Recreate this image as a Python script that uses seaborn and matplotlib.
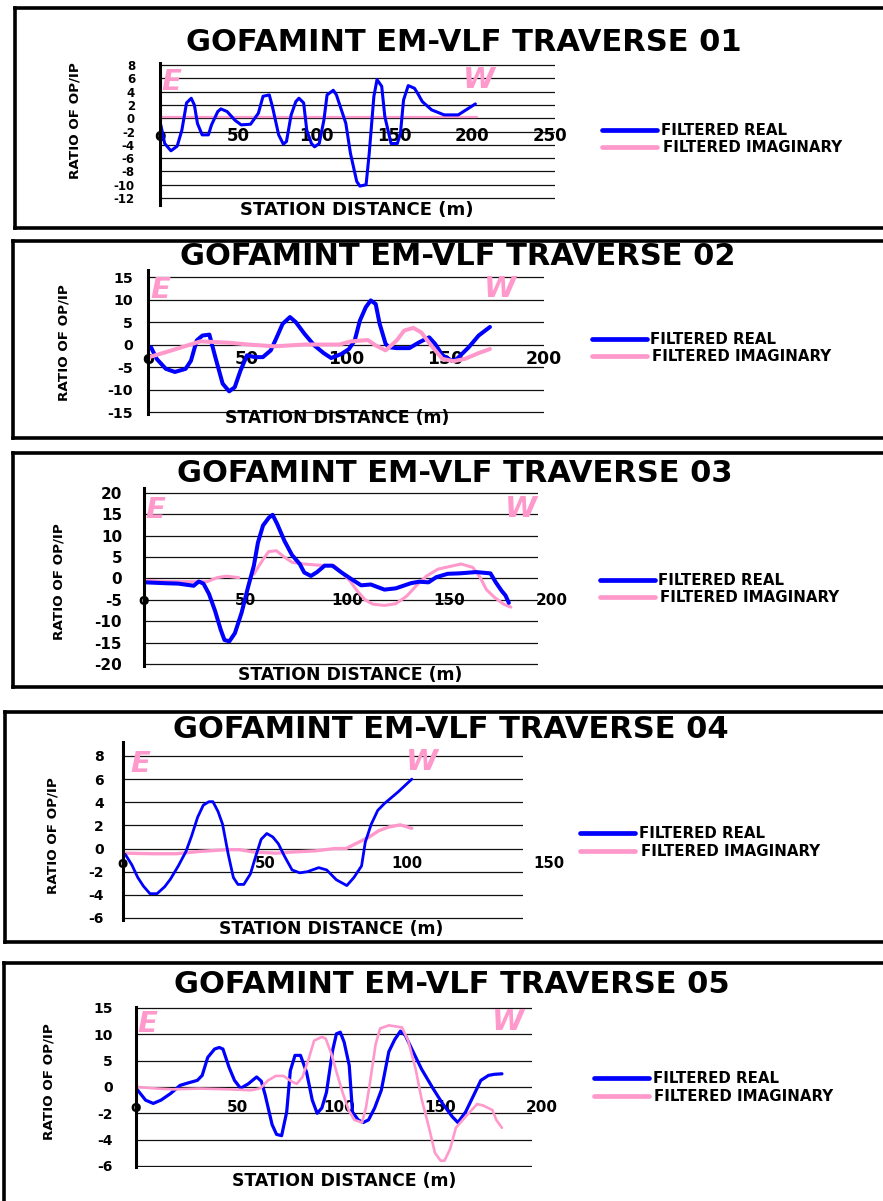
import numpy as np
import matplotlib
matplotlib.use("Agg")
import matplotlib.pyplot as plt
import seaborn as sns
from matplotlib.lines import Line2D

# ---------------- data ----------------
titles = ["GOFAMINT EM-VLF TRAVERSE 01", "GOFAMINT EM-VLF TRAVERSE 02",
          "GOFAMINT EM-VLF TRAVERSE 03", "GOFAMINT EM-VLF TRAVERSE 04",
          "GOFAMINT EM-VLF TRAVERSE 05"]
series_names = ["FILTERED REAL", "FILTERED IMAGINARY"]
y_label = "RATIO OF OP/IP"
x_label = "STATION DISTANCE (m)"

t1_yticks = [8, 6, 4, 2, 0, -2, -4, -6, -8, -10, -12]
t2_yticks = [15, 10, 5, 0, -5, -10, -15]
t3_yticks = [20, 15, 10, 5, 0, -5, -10, -15, -20]
t4_yticks = [8, 6, 4, 2, 0, -2, -4, -6]
t5_yticks = [15, 10, 5, 0, -2, -4, -6]

t1_xlabels = [0, 50, 100, 150, 200, 250]
t2_xlabels = [0, 50, 100, 150, 200]
t3_xlabels = [0, 50, 100, 150, 200]
t4_xlabels = [0, 50, 100, 150]
t5_xlabels = [0, 50, 100, 150, 200]

t1_real_x = [0.5, 3, 7, 11, 14, 17, 20, 22, 24, 27, 31, 33, 37, 39, 43, 48, 52, 58, 63, 66,
             70, 72, 76, 79, 81, 84, 87, 89, 92, 94, 97, 99, 102, 105, 107, 111, 113, 119, 122, 126,
             128, 132, 134, 137, 139, 142, 144, 148, 152, 154, 156, 159, 163, 165, 168, 174, 182, 191, 202]
t1_real_y = [-1, -3.8, -4.9, -4.2, -1.8, 2.3, 3.0, 2.0, -0.8, -2.5, -2.5, -1, 1.0, 1.4, 1.0, -0.3, -1, -0.9, 0.75, 3.3,
             3.5, 1.75, -2.5, -3.9, -3.5, 0.5, 2.5, 3.0, 2.3, -1.8, -3.8, -4.3, -3.8, -0.25, 3.5, 4.2, 3.5, -0.75, -5.3, -9.5,
             -10.2, -10, -5.3, 3.3, 5.8, 4.8, 0.25, -3.8, -3.8, -2.3, 2.75, 4.9, 4.5, 3.75, 2.5, 1.25, 0.5, 0.5, 2.15]
t1_imag_x = [0, 50, 100, 150, 203]
t1_imag_y = [0.15, 0.15, 0.15, 0.15, 0.15]

t2_real_x = [1.5, 4.4, 9, 13.6, 19, 21.7, 24.6, 27.5, 31, 34, 37.7, 41, 43.8, 46.7, 50, 54, 58, 62, 65, 68,
             71.7, 74.6, 79, 84, 88.7, 92.5, 97.7, 101.5, 104.4, 107, 110, 112.5, 115, 117, 120, 121.7, 125.6,
             132, 137, 142, 145, 148.7, 153.5, 156, 162, 167, 172.7]
t2_real_y = [-0.6, -3.2, -5.4, -6.1, -5.4, -3.6, 0.9, 2.0, 2.2, -2.8, -8.7, -10.4, -9.5, -5.8, -2.4, -2.8, -2.8, -1.3, 1.6, 4.6,
             6.1, 5.0, 2.4, -0.2, -1.9, -3.0, -2.1, -1.0, 0.9, 5.3, 8.3, 9.8, 9.0, 4.6, 0.15, -0.6, -0.8,
             -0.8, 0.5, 1.6, 0.15, -2.4, -3.6, -3.2, -0.6, 2.0, 3.9]
t2_imag_x = [0.6, 12, 26.5, 41, 50.6, 64, 79, 96.7, 102.5, 111, 115, 120, 125.6, 129.4, 134, 138, 143,
             148.7, 154.4, 160, 167, 172.7]
t2_imag_y = [-2.8, -1.3, 0.7, 0.4, 0, -0.4, 0, 0, 0.7, 1.0, -0.2, -1.3, 0.9, 3.1, 3.7, 2.7, -0.2,
             -3.2, -3.7, -3.2, -1.9, -1.0]

t3_real_x = [0.6, 10.4, 17, 24.5, 27, 29.3, 32, 35, 37.7, 39.6, 42, 44.7, 48, 51, 54, 56, 58.5, 61.3, 63.2, 65.5,
             69, 72.7, 76.5, 78.7, 82, 85, 88.7, 92.5, 97, 102, 106.6, 111.3, 118, 123.6, 131, 135, 139.6, 143.4,
             149, 154.7, 163, 170, 172.6, 175.5, 177.4, 179]
t3_real_y = [-0.9, -1.1, -1.2, -1.7, -0.7, -1.2, -3.6, -7.6, -11.9, -14.4, -14.7, -12.8, -8.0, -2.3, 3.0, 8.4, 12.4, 14.2, 14.9, 12.7,
             8.8, 5.5, 3.4, 1.4, 0.6, 1.5, 3.0, 3.0, 1.4, -0.2, -1.6, -1.4, -2.6, -2.3, -1.1, -0.75, -0.9, 0.3,
             1.1, 1.2, 1.5, 1.2, -0.9, -2.9, -4.0, -5.7]
t3_imag_a_x = [0, 10.4, 18, 25.5, 31, 36, 40.6, 46.6]
t3_imag_a_y = [-0.4, -0.7, -0.75, -0.75, -0.75, 0.2, 0.55, 0.2]
t3_imag_b_x = [54, 55.5, 58.7, 61.3, 65, 69, 72.7, 78.4, 86, 93.4, 97, 101, 104.7, 108.5, 112.3, 118, 123.6,
               129, 134, 138.7, 144.3, 150, 155.6, 161.3, 165, 168, 171.7, 176.4, 180]
t3_imag_b_y = [1.0, 2.2, 4.6, 6.3, 6.5, 5.0, 3.8, 3.4, 3.1, 3.0, 1.4, -0.5, -2.9, -5.0, -6.0, -6.3, -5.9,
               -4.1, -1.5, 0.6, 2.2, 2.8, 3.4, 2.6, 0.2, -2.6, -4.3, -6.0, -6.7]

t4_real_x = [0.8, 3.1, 5.2, 7.2, 9.5, 12, 14.7, 16.7, 19.5, 22.2, 24.2, 26.3, 28.3, 30.3, 31.7, 33.5, 35.1, 37.1,
             38.9, 40.5, 42.6, 44.9, 47, 48.7, 50.7, 52.8, 54.8, 56.9, 59.6, 62.3, 65, 69, 71.8, 75.2, 78.9,
             81.4, 84.1, 85.4, 87.5, 89.8, 92.2, 97, 101.8]
t4_real_y = [-0.5, -1.4, -2.5, -3.25, -3.9, -3.9, -3.3, -2.65, -1.5, -0.25, 1.1, 2.7, 3.75, 4.05, 4.05, 3.2, 2.1, -0.5,
             -2.5, -3.1, -3.1, -2.2, -0.5, 0.8, 1.3, 1.0, 0.4, -0.65, -1.85, -2.1, -2.0, -1.65, -1.85, -2.7, -3.2,
             -2.5, -1.5, 0.55, 2.1, 3.3, 3.9, 4.9, 6.0]
t4_imag_x = [0.4, 10.6, 18.8, 26.9, 36.5, 41.2, 46, 54, 59.6, 67.8, 74.6, 78.6, 82.7, 86.8, 90.2, 93.6, 97.7, 101.8]
t4_imag_y = [-0.4, -0.45, -0.45, -0.25, -0.1, -0.1, -0.3, -0.4, -0.3, -0.2, 0, 0, 0.5, 1.0, 1.55, 1.85, 2.05, 1.75]

t5_real_x = [0.6, 4.7, 8.5, 12.3, 17, 21.7, 25.5, 30.2, 32.6, 35.3, 38.7, 41, 42.8, 45.8, 48.5, 51.5, 55.3, 59.4,
             61.7, 63.6, 67, 69.2, 71.7, 74.2, 76, 78.3, 81, 84, 86.8, 89.2, 91.5, 93.8, 96.8, 98.7, 100.6,
             102.5, 105, 106.6, 109.4, 111.9, 114.5, 117.5, 120.8, 124.5, 127.4, 130.2, 132.6, 135.8, 140.6,
             146.2, 150.9, 155.7, 158.5, 162.3, 167, 169.8, 173.6, 176.4, 180.2]
t5_real_y = [-0.2, -1.0, -1.25, -1.0, -0.5, 0.3, 0.75, 1.25, 2.2, 5.6, 7.2, 7.5, 7.2, 3.75, 1.25, -0.1, 0.6, 1.9,
             1.1, -0.6, -2.85, -3.6, -3.7, -1.9, 3.1, 6.0, 6.0, 2.8, -1.0, -2.0, -1.6, -0.4, 6.9, 10.1, 10.4,
             8.5, 4.1, -1.9, -2.5, -2.7, -2.5, -1.6, -0.25, 6.7, 9.0, 10.6, 9.8, 7.2, 3.4,
             -0.1, -1.25, -2.25, -2.7, -1.9, -0.4, 1.25, 2.2, 2.4, 2.5]
t5_imag_x = [0.6, 8.5, 18, 31, 46, 56.6, 61.3, 65, 68.9, 72.6, 76.8, 79.2, 82, 85, 87.7, 91.5, 93.4, 96.2, 99,
             101.9, 104.7, 107.5, 111.3, 113.2, 115, 118, 120.2, 124.5, 131, 134, 137.7, 140.6, 144.3, 147.2,
             150, 151.9, 154.7, 157.5, 162.3, 168, 170.8, 175.5, 177.4, 180.2]
t5_imag_y = [0, -0.1, -0.18, -0.12, -0.18, -0.25, -0.1, 1.25, 2.1, 2.1, 1.0, 0.6, 1.9, 5.3, 8.8, 9.5, 9.2, 6.3, 2.5,
             -0.5, -1.75, -2.5, -2.7, -1.6, 0.3, 8.1, 11.1, 11.7, 11.3, 8.8, 3.4, -0.9, -3.1, -5.0,
             -5.6, -5.6, -4.7, -3.1, -2.25, -1.3, -1.4, -1.75, -2.5, -3.1]

# ---------------- style ----------------
sns.set_style("white")
plt.rcParams["font.family"] = ["DejaVu Sans"]
plt.rcParams["text.color"] = "black"
plt.rcParams["axes.labelcolor"] = "black"
plt.rcParams["xtick.color"] = "black"
plt.rcParams["ytick.color"] = "black"

W, H = 883, 1201
fig = plt.figure(figsize=(W / 100, H / 100), dpi=100)
fig.patch.set_facecolor("white")
BLUE = "#0000FF"
PINK = "#FF99CC"


def fx(x):
    return x / W


def fy(y):
    return 1 - y / H


def fwd(v):
    v = np.asarray(v, dtype=float)
    return np.where(v >= 0, v / 5.0, v / 2.0)


def inv(p):
    p = np.asarray(p, dtype=float)
    return np.where(p >= 0, p * 5.0, p * 2.0)


def frame(left, top, bottom):
    kw = dict(color="black", lw=2.6, transform=fig.transFigure, solid_capstyle="projecting")
    yb = fy(bottom) if bottom is not None else -0.01
    fig.add_artist(Line2D([fx(left), fx(left)], [fy(top), yb], **kw))
    fig.add_artist(Line2D([fx(left), 1.01], [fy(top), fy(top)], **kw))
    if bottom is not None:
        fig.add_artist(Line2D([fx(left), 1.01], [fy(bottom), fy(bottom)], **kw))


panels = [
    dict(frame=(15, 7.5, 228), x0=160, x1=555, xlim=(0, 253), ytop=63.0, ybot=204.7, ylim=(-13, 8.3),
         yticks=t1_yticks, ytsize=8.5, ypad=18, xlabels=t1_xlabels, xlab_y=-3.4, xlsize=12,
         real=[(t1_real_x, t1_real_y)], imag=[(t1_imag_x, t1_imag_y)], lw_r=2.2, lw_i=1.6, pink_top=False,
         title=(464, 51), ylab=(75, 121), xlab=(357, 215, 13), E=(161, 90), Wp=(463, 88),
         leg=(602, 657, 130, 147, 661, 663), fscale=False),
    dict(frame=(13, 241, 438), x0=148, x1=544, xlim=(0, 200), ytop=270.3, ybot=413.8, ylim=(-15.4, 16.5),
         yticks=t2_yticks, ytsize=10.3, ypad=11, xlabels=t2_xlabels, xlab_y=-4.3, xlsize=12.4,
         real=[(t2_real_x, t2_real_y)], imag=[(t2_imag_x, t2_imag_y)], lw_r=2.9, lw_i=2.9, pink_top=True,
         title=(458, 265), ylab=(64, 343), xlab=(337, 423, 12.4), E=(150, 298), Wp=(484, 297),
         leg=(592, 647, 339, 356, 650, 652), fscale=False),
    dict(frame=(13, 453.3, 687.3), x0=143.7, x1=538, xlim=(0, 193.3), ytop=487.9, ybot=666.1, ylim=(-20.5, 21.2),
         yticks=t3_yticks, ytsize=11, ypad=15.6, xlabels=t3_xlabels, xlab_y=-6.1, xlsize=11,
         real=[(t3_real_x, t3_real_y)], imag=[(t3_imag_a_x, t3_imag_a_y), (t3_imag_b_x, t3_imag_b_y)],
         lw_r=2.9, lw_i=2.2, pink_top=False,
         title=(455, 482), ylab=(59, 582), xlab=(350, 680, 12.4), E=(145, 518), Wp=(505, 517),
         leg=(600, 655, 580, 597, 658, 660), fscale=False),
    dict(frame=(4.6, 711.7, 942.3), x0=123, x1=523, xlim=(0, 141), ytop=742.1, ybot=919.7, ylim=(-6.15, 9.2),
         yticks=t4_yticks, ytsize=10, ypad=13.7, xlabels=t4_xlabels, xlab_y=-1.72, xlsize=10.7,
         real=[(t4_real_x, t4_real_y)], imag=[(t4_imag_x, t4_imag_y)], lw_r=2.0, lw_i=2.4, pink_top=False,
         title=(451, 738), ylab=(53, 836), xlab=(331, 934, 12.4), E=(130, 772), Wp=(406, 770),
         leg=(580, 635, 833, 851, 639, 641), fscale=False),
    dict(frame=(3.8, 963.3, None), x0=136, x1=532, xlim=(0, 195), ytop=1006.9, ybot=1167.3, ylim=(-6.1, 15.2),
         yticks=t5_yticks, ytsize=10, ypad=16.5, xlabels=t5_xlabels, xlab_y=-1.9, xlsize=11,
         real=[(t5_real_x, t5_real_y)], imag=[(t5_imag_x, t5_imag_y)], lw_r=2.3, lw_i=1.9, pink_top=True,
         title=(452, 993), ylab=(49, 1082), xlab=(344, 1186, 12.4), E=(137, 1032), Wp=(492, 1030),
         leg=(594, 649, 1078, 1096, 653, 654), fscale=True),
]

for i, p in enumerate(panels):
    frame(*p["frame"])
    ax = fig.add_axes([fx(p["x0"]), fy(p["ybot"]), (p["x1"] - p["x0"]) / W, (p["ybot"] - p["ytop"]) / H])
    ax.patch.set_alpha(0)
    if p["fscale"]:
        ax.set_yscale("function", functions=(fwd, inv))
    zr, zi = (3, 4) if p["pink_top"] else (4, 3)
    for xs, ys in p["real"]:
        sns.lineplot(x=np.array(xs), y=np.array(ys), ax=ax, color=BLUE, lw=p["lw_r"], estimator=None,
                     sort=False, zorder=zr, solid_capstyle="round", solid_joinstyle="round")
    for xs, ys in p["imag"]:
        sns.lineplot(x=np.array(xs), y=np.array(ys), ax=ax, color=PINK, lw=p["lw_i"], estimator=None,
                     sort=False, zorder=zi, solid_capstyle="round", solid_joinstyle="round")
    ax.set_xlim(*p["xlim"])
    ax.set_ylim(*p["ylim"])
    ax.set_yticks(p["yticks"])
    ax.set_yticklabels([str(t) for t in p["yticks"]], fontsize=p["ytsize"], fontweight="bold", color="black")
    ax.tick_params(axis="y", length=0, pad=p["ypad"])
    ax.tick_params(axis="x", bottom=False, labelbottom=False)
    ax.set_xlabel("")
    ax.set_ylabel("")
    ax.grid(axis="y", color="#111111", lw=0.9)
    ax.grid(axis="x", visible=False)
    ax.set_axisbelow(True)
    for s in ["top", "right", "bottom"]:
        ax.spines[s].set_visible(False)
    ax.spines["left"].set_color("black")
    ax.spines["left"].set_linewidth(2.2)
    ax.spines["left"].set_zorder(5)
    for v in p["xlabels"]:
        ax.text(v, p["xlab_y"], "o" if v == 0 else str(v), ha="center", va="baseline",
                fontsize=p["xlsize"], fontweight="bold", zorder=1.5, clip_on=False, color="black")

    # titles and labels
    tx, ty = p["title"]
    fig.text(fx(tx), fy(ty), titles[i], ha="center", va="baseline", fontsize=22, fontweight="bold",
             color="black")
    lx, ly = p["ylab"]
    fig.text(fx(lx), fy(ly), y_label, rotation=90, ha="center", va="center", fontsize=9.7,
             fontweight="bold", color="black")
    sx, sy, ss = p["xlab"]
    fig.text(fx(sx), fy(sy), x_label, ha="center", va="baseline", fontsize=ss, fontweight="bold",
             color="black")
    ex, ey = p["E"]
    fig.text(fx(ex), fy(ey), "E", ha="left", va="baseline", fontsize=21, fontweight="bold",
             style="italic", color=PINK)
    wx, wy = p["Wp"]
    fig.text(fx(wx), fy(wy), "W", ha="left", va="baseline", fontsize=21, fontweight="bold",
             style="italic", color=PINK)

    # legend
    l0, l1, yb, yp, tr, ti = p["leg"]
    for (yy, col, name, txx) in [(yb, BLUE, series_names[0], tr), (yp, PINK, series_names[1], ti)]:
        fig.add_artist(Line2D([fx(l0), fx(l1)], [fy(yy), fy(yy)], color=col, lw=3.4,
                              solid_capstyle="round", transform=fig.transFigure))
        fig.text(fx(txx), fy(yy + 5.3), name, ha="left", va="baseline", fontsize=10.8,
                 fontweight="bold", color="black")

fig.savefig("out.png", dpi=100, facecolor="white")
